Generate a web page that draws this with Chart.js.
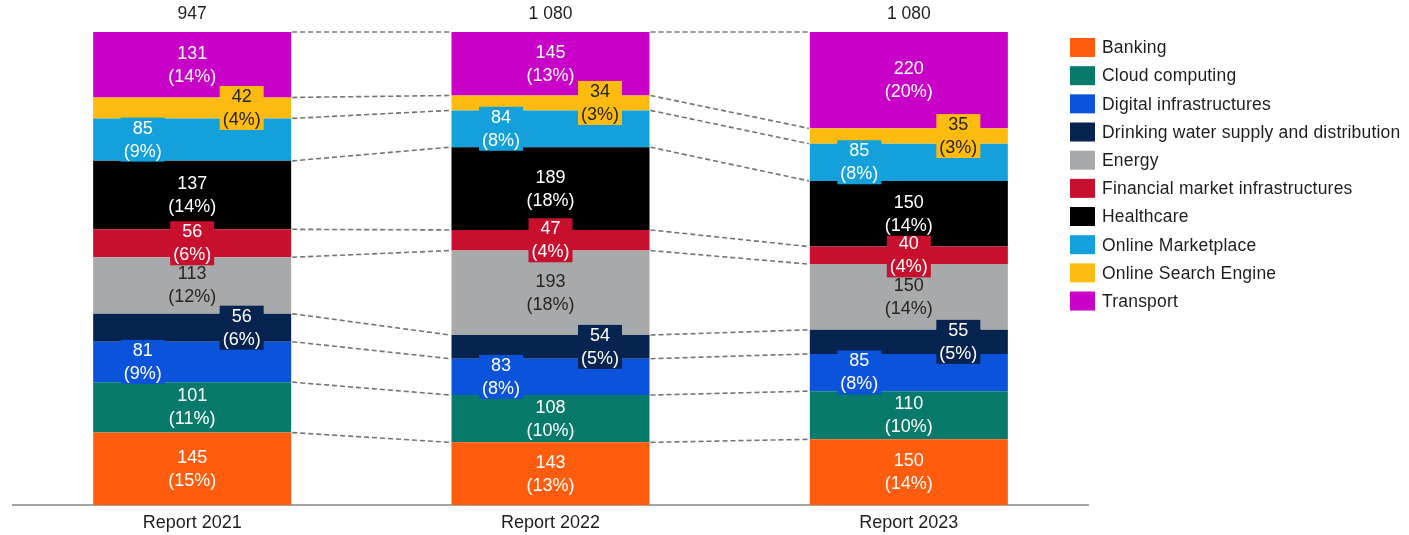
<!DOCTYPE html>
<html>
<head>
<meta charset="utf-8">
<script src="https://cdn.jsdelivr.net/npm/chart.js@4.4.1/dist/chart.umd.min.js"></script>
<style>
  html, body { margin: 0; padding: 0; background: #ffffff; }
  #wrap { width: 1409px; height: 535px; position: relative; }
</style>
</head>
<body>
<div id="wrap"><canvas id="chart"></canvas></div>
<script>
// Reports compared
const categories = ['Report 2021', 'Report 2022', 'Report 2023'];

// Sectors, bottom of the stack first
const sectors = [
  'Banking',
  'Cloud computing',
  'Digital infrastructures',
  'Drinking water supply and distribution',
  'Energy',
  'Financial market infrastructures',
  'Healthcare',
  'Online Marketplace',
  'Online Search Engine',
  'Transport'
];

// Counts per sector, one value per report
const banking                = [145, 143, 150];
const cloudComputing         = [101, 108, 110];
const digitalInfrastructures = [81, 83, 85];
const drinkingWater          = [56, 54, 55];
const energy                 = [113, 193, 150];
const financialMarket        = [56, 47, 40];
const healthcare             = [137, 189, 150];
const onlineMarketplace      = [85, 84, 85];
const onlineSearchEngine     = [42, 34, 35];
const transport              = [131, 145, 220];

const seriesValues = [
  banking, cloudComputing, digitalInfrastructures, drinkingWater, energy,
  financialMarket, healthcare, onlineMarketplace, onlineSearchEngine, transport
];

// Styling
const sectorColors = [
  '#FF5C0D', '#087A6B', '#0C53DB', '#07234F', '#A7A9AB',
  '#C8102E', '#000000', '#14A0DA', '#FDBB10', '#C800C8'
];
const labelInk = ['#ffffff', '#ffffff', '#ffffff', '#ffffff', '#262626',
                  '#ffffff', '#ffffff', '#ffffff', '#262626', '#ffffff'];
// horizontal placement of each sector's value label: -1 left, 0 centre, 1 right
const labelSide = [0, 0, -1, 1, 0, 0, 0, -1, 1, 0];

const FONT = '"Liberation Sans", Arial, Helvetica, sans-serif';

// Report totals and each sector's share of them
const totals = categories.map((_, i) => seriesValues.reduce((s, arr) => s + arr[i], 0));
const shares = seriesValues.map(arr => arr.map((v, i) => v / totals[i] * 100));
const fmtThousands = n => String(n).replace(/\B(?=(\d{3})+(?!\d))/g, ' ');

const datasets = sectors.map((name, d) => ({
  label: name,
  data: shares[d],
  backgroundColor: sectorColors[d],
  borderWidth: 0,
  barPercentage: 1,
  categoryPercentage: 0.5526
}));

const overlay = {
  id: 'overlay',
  afterDatasetsDraw(chart) {
    const ctx = chart.ctx;
    const metas = sectors.map((_, d) => chart.getDatasetMeta(d));

    // dashed connectors between matching segment edges of neighbouring bars
    ctx.save();
    ctx.strokeStyle = '#747474';
    ctx.lineWidth = 1.6;
    ctx.setLineDash([5, 3]);
    for (let i = 0; i < categories.length - 1; i++) {
      metas.forEach(m => {
        const a = m.data[i], b = m.data[i + 1];
        ctx.beginPath();
        ctx.moveTo(a.x + a.width / 2 + 1, a.y);
        ctx.lineTo(b.x - b.width / 2 - 1, b.y);
        ctx.stroke();
      });
    }
    ctx.restore();

    // value labels: count and share, on a patch of the segment colour
    ctx.save();
    ctx.font = '18px ' + FONT;
    ctx.textAlign = 'center';
    ctx.textBaseline = 'middle';
    metas.forEach((m, d) => {
      m.data.forEach((el, i) => {
        const v = seriesValues[d][i];
        const pct = Math.round(v / totals[i] * 100);
        const l1 = String(v), l2 = '(' + pct + '%)';
        const cx = el.x + labelSide[d] * el.width * 0.25;
        const cy = (el.y + el.base) / 2;
        const w = Math.max(ctx.measureText(l1).width, ctx.measureText(l2).width) + 6;
        ctx.fillStyle = sectorColors[d];
        ctx.fillRect(cx - w / 2, cy - 22, w, 44);
        ctx.fillStyle = labelInk[d];
        ctx.fillText(l1, cx, cy - 11);
        ctx.fillText(l2, cx, cy + 12);
      });
    });

    // report totals above each bar
    ctx.font = '17.5px ' + FONT;
    ctx.fillStyle = '#1e1e1e';
    const top = metas[metas.length - 1];
    top.data.forEach((el, i) => {
      ctx.fillText(fmtThousands(totals[i]), el.x, chart.chartArea.top - 18);
    });
    ctx.restore();
  },
  afterDraw(chart) {
    // legend list on the right
    const ctx = chart.ctx;
    ctx.save();
    ctx.font = '17.5px ' + FONT;
    ctx.textAlign = 'left';
    ctx.textBaseline = 'middle';
    if ('letterSpacing' in ctx) ctx.letterSpacing = '0.2px';
    sectors.forEach((name, d) => {
      const y = 47.5 + d * 28.17;
      ctx.fillStyle = sectorColors[d];
      ctx.fillRect(1070, y - 9.5, 25, 19);
      ctx.fillStyle = '#1e1e1e';
      ctx.fillText(name, 1102, y + 1);
    });
    ctx.restore();
  }
};

new Chart(document.getElementById('chart'), {
  type: 'bar',
  data: { labels: categories, datasets },
  plugins: [overlay],
  options: {
    responsive: true,
    maintainAspectRatio: false,
    animation: false,
    layout: { padding: { left: 13, right: 321, top: 32, bottom: 0 } },
    plugins: {
      legend: { display: false },
      tooltip: { enabled: false }
    },
    scales: {
      x: {
        stacked: true,
        grid: { display: false, drawTicks: false },
        border: { display: true, color: '#a3a3a3', width: 2 },
        ticks: { color: '#1e1e1e', font: { family: FONT, size: 18 }, padding: 7 },
        afterFit(scale) { scale.height = 30; }
      },
      y: {
        stacked: true,
        display: false,
        min: 0,
        max: 100
      }
    }
  }
});
</script>
</body>
</html>
